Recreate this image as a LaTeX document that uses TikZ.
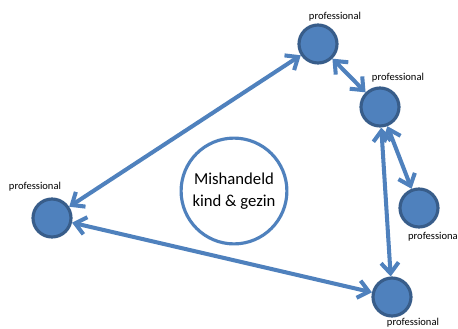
\documentclass[tikz,border=0pt]{standalone}
\usepackage{fontspec}
\setmainfont{Carlito}
\usetikzlibrary{arrows.meta}
\definecolor{profblue}{HTML}{4F81BD}
\definecolor{profedge}{HTML}{385D8A}

\begin{document}
\begin{tikzpicture}[x=0.02cm, y=-0.02cm,
	prof/.style={circle, fill=profblue, draw=profedge, line width=1.8pt, minimum size=0.76cm, inner sep=0pt},
	lbl/.style={font=\fontsize{6}{7}\selectfont, inner sep=0pt},
	link/.style={profblue, line width=2.3pt, {Straight Barb[length=6pt,width=10pt]}-{Straight Barb[length=6pt,width=10pt]}}]
	\useasboundingbox (0,0) rectangle (458,329);

	% kind in het midden
	\node[circle, draw=profblue, fill=white, line width=1.8pt, minimum size=1.92cm, align=center,
		font=\fontsize{9.5}{12.5}\selectfont] (kind) at (234,191) {Mishandeld\\kind \& gezin};

	% professionals
	\node[prof] (top) at (318,44) {};
	\node[prof] (rup) at (380,107) {};
	\node[prof] (rgt) at (419,208) {};
	\node[prof] (bot) at (392,297) {};
	\node[prof] (lft) at (52,218) {};

	\node[lbl] (ltop) at (335,17) {professional};
	\node[lbl] (lrup) at (398,78) {professional};
	\node[lbl] (lrgt) at (433,237) {professiona};
	\node[lbl] (lbot) at (413,323) {professional};
	\node[lbl] (llft) at (35,187) {professional};

	\foreach \a/\b in {top/lft, top/rup, rup/bot, rup/rgt, lft/bot}
	{
	\draw[link] (\a) -- (\b);
}

\end{tikzpicture}
\end{document}
